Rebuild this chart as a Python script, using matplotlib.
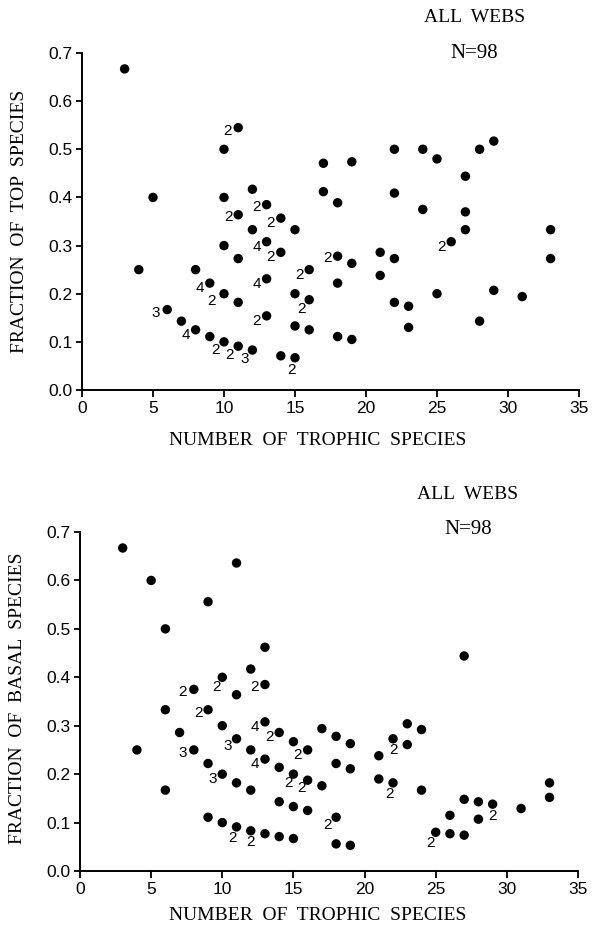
import matplotlib
matplotlib.use("Agg")
import matplotlib.pyplot as plt

# Top panel: fraction of top species vs number of trophic species
# (count > 1 means several webs fall on the same point)
top_x = [3, 4, 5, 6, 7, 8, 8, 9, 9, 10, 10, 10, 10, 10,
         11, 11, 11, 11, 11, 12, 12, 12, 13, 13, 13, 13, 14, 14, 14,
         15, 15, 15, 15, 16, 16, 16, 17, 17, 18, 18, 18, 18,
         19, 19, 19, 21, 21, 22, 22, 22, 22, 23, 23, 24, 24, 25, 25,
         26, 27, 27, 27, 28, 28, 29, 29, 31, 33, 33]
top_y = [0.667, 0.250, 0.400, 0.167, 0.143, 0.250, 0.125, 0.222, 0.111,
         0.500, 0.400, 0.300, 0.200, 0.100,
         0.545, 0.364, 0.273, 0.182, 0.091, 0.417, 0.333, 0.083,
         0.385, 0.308, 0.231, 0.154, 0.357, 0.286, 0.071,
         0.333, 0.200, 0.133, 0.067, 0.250, 0.1875, 0.125, 0.471, 0.412,
         0.389, 0.278, 0.222, 0.111, 0.474, 0.263, 0.105, 0.286, 0.238,
         0.500, 0.409, 0.273, 0.182, 0.174, 0.130, 0.500, 0.375, 0.480, 0.200,
         0.308, 0.444, 0.370, 0.333, 0.500, 0.143, 0.517, 0.207, 0.194,
         0.333, 0.273]
top_n = [1, 1, 1, 3, 1, 1, 4, 4, 1, 1, 1, 1, 2, 2,
         2, 2, 1, 1, 2, 1, 1, 3, 2, 4, 4, 2, 2, 2, 1,
         1, 1, 1, 2, 2, 2, 1, 1, 1, 1, 2, 1, 1,
         1, 1, 1, 1, 1, 1, 1, 1, 1, 1, 1, 1, 1, 1, 1,
         2, 1, 1, 1, 1, 1, 1, 1, 1, 1, 1]

# Bottom panel: fraction of basal species
bas_x = [3, 4, 5, 6, 6, 6, 7, 8, 8, 9, 9, 9, 9, 10, 10, 10, 10,
         11, 11, 11, 11, 11, 12, 12, 12, 12, 13, 13, 13, 13, 13,
         14, 14, 14, 14, 15, 15, 15, 15, 16, 16, 16, 17, 17,
         18, 18, 18, 18, 19, 19, 19, 21, 21, 22, 22, 23, 23, 24, 24,
         25, 26, 26, 27, 27, 27, 28, 28, 29, 31, 33, 33]
bas_y = [0.667, 0.250, 0.600, 0.500, 0.333, 0.167, 0.286, 0.375, 0.250,
         0.556, 0.333, 0.222, 0.111, 0.400, 0.300, 0.200, 0.100,
         0.636, 0.364, 0.273, 0.182, 0.091, 0.417, 0.250, 0.167, 0.083,
         0.462, 0.385, 0.308, 0.231, 0.077, 0.286, 0.214, 0.143, 0.071,
         0.267, 0.200, 0.133, 0.067, 0.250, 0.1875, 0.125, 0.294, 0.176,
         0.278, 0.222, 0.111, 0.056, 0.263, 0.211, 0.053, 0.238, 0.190,
         0.273, 0.182, 0.304, 0.261, 0.292, 0.167, 0.080, 0.115, 0.077,
         0.444, 0.148, 0.074, 0.143, 0.107, 0.138, 0.129, 0.182, 0.152]
bas_n = [1, 1, 1, 1, 1, 1, 1, 2, 3, 1, 2, 1, 1, 2, 1, 3, 1,
         1, 1, 3, 1, 2, 1, 1, 1, 2, 1, 2, 4, 4, 1,
         2, 1, 1, 1, 1, 2, 1, 1, 2, 2, 1, 1, 1,
         1, 1, 2, 1, 1, 1, 1, 1, 1, 1, 2, 1, 2, 1, 1,
         2, 1, 1, 1, 1, 1, 1, 1, 2, 1, 1, 1]

x_ticks = [0, 5, 10, 15, 20, 25, 30, 35]
y_ticks = [0.0, 0.1, 0.2, 0.3, 0.4, 0.5, 0.6, 0.7]

# where a count label sits relative to its dot (pixels, +y is up)
default_nudge = (-10, -5)
top_nudge = {(10, 0.2): (-12, -7), (10, 0.1): (-9, -8), (11, 0.091): (-9, -9),
             (12, 0.083): (-8, -9), (15, 0.067): (-3, -12), (16, 0.1875): (-8, -9),
             (11, 0.545): (-11, -3), (18, 0.278): (-10, -2), (6, 0.167): (-11, -3),
             (13, 0.385): (-10, -2), (11, 0.364): (-10, -2)}
bas_nudge = {(10, 0.4): (-6, -10), (8, 0.375): (-11, -3), (13, 0.385): (-10, -2),
             (9, 0.333): (-10, -3), (8, 0.25): (-11, -3), (11, 0.273): (-9, -7),
             (15, 0.2): (-5, -9), (16, 0.1875): (-6, -8), (11, 0.091): (-4, -11),
             (12, 0.083): (0, -11), (18, 0.111): (-9, -8), (23, 0.261): (-14, -5),
             (22, 0.182): (-4, -11), (25, 0.08): (-5, -11), (29, 0.138): (0, -12)}

serif = "Liberation Serif"
sans = "Liberation Sans"

fig = plt.figure(figsize=(5.97, 9.31), dpi=100)
ax_top = fig.add_axes([82 / 597, 1 - 390 / 931, 497 / 597, 337 / 931])
ax_bot = fig.add_axes([80 / 597, 1 - 871 / 931, 498 / 597, 339 / 931])


def draw_panel(ax, xs, ys, ns, nudges):
    ax.scatter(xs, ys, s=46, color="black", edgecolors="none", zorder=3,
               clip_on=False)
    for x, y, n in zip(xs, ys, ns):
        if n > 1:
            dx, dy = nudges.get((x, round(y, 4)), default_nudge)
            ax.annotate(str(n), (x, y), xytext=(dx, dy),
                        textcoords="offset pixels", ha="center", va="center",
                        fontsize=11, family=sans)
    ax.set_xlim(0, 35)
    ax.set_ylim(0, 0.7)
    ax.set_xticks(x_ticks)
    ax.set_yticks(y_ticks)
    ax.set_yticklabels([f"{v:.1f}" for v in y_ticks])
    for sp in ("top", "right"):
        ax.spines[sp].set_visible(False)
    for sp in ("left", "bottom"):
        ax.spines[sp].set_linewidth(1.4)
    ax.tick_params(axis="both", direction="out", width=1.3, labelsize=12.5,
                   pad=3)
    ax.tick_params(axis="x", length=5)
    ax.tick_params(axis="y", length=4)
    for lab in ax.get_xticklabels() + ax.get_yticklabels():
        lab.set_family(sans)


draw_panel(ax_top, top_x, top_y, top_n, top_nudge)
draw_panel(ax_bot, bas_x, bas_y, bas_n, bas_nudge)


def px(x, y):
    return x / 597, 1 - y / 931


label_kw = dict(family=serif, fontsize=14, ha="center", va="center")

fig.text(*px(475, 18), "ALL  WEBS", **label_kw)
fig.text(*px(474, 53), "N=98", fontsize=15, family=serif, ha="center", va="center")
fig.text(*px(20, 221), "FRACTION  OF  TOP  SPECIES", rotation=90, **label_kw)
fig.text(*px(318, 440), "NUMBER  OF  TROPHIC  SPECIES", **label_kw)

fig.text(*px(468, 494), "ALL  WEBS", **label_kw)
fig.text(*px(468, 530), "N=98", fontsize=15, family=serif, ha="center", va="center")
fig.text(*px(18, 698), "FRACTION  OF  BASAL  SPECIES", rotation=90, **label_kw)
fig.text(*px(318, 916), "NUMBER  OF  TROPHIC  SPECIES", **label_kw)

fig.savefig("out.png", dpi=100)
